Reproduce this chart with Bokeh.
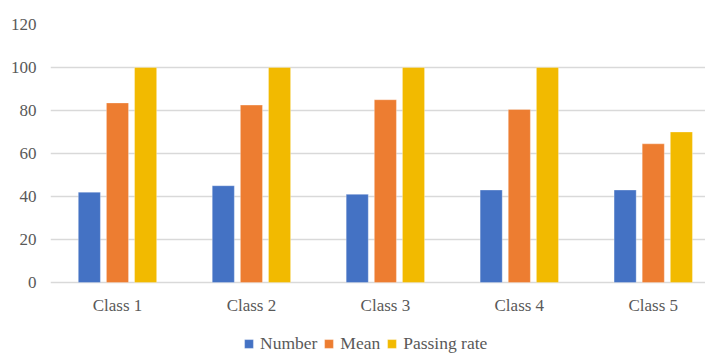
from bokeh.plotting import figure
from bokeh.models import Range1d, FixedTicker, Legend, LegendItem, ColumnDataSource
from bokeh.core.properties import value
from bokeh.embed import file_html
from bokeh.resources import INLINE

classes = ["Class 1", "Class 2", "Class 3", "Class 4", "Class 5"]
number = [42, 45, 41, 43, 43]
mean = [83.5, 82.5, 85, 80.5, 64.5]
passing = [100, 100, 100, 100, 70]
series_names = ["Number", "Mean", "Passing rate"]
colors = ["#4472C4", "#ED7D31", "#F2BA00"]

FONT = "Liberation Serif"
TXT = "#595959"

p = figure(frame_width=655, frame_height=330, output_backend="svg", toolbar_location=None,
           x_range=Range1d(-0.5, 4.39), y_range=Range1d(-33.49, 120),
           min_border_left=50, min_border_right=0, min_border_top=24, min_border_bottom=0)
p.outline_line_color = None
p.background_fill_color = "white"
p.border_fill_color = "white"

xs = list(range(len(classes)))
offsets = [-0.21, 0.0, 0.21]
renderers = []
for vals, off, col in zip([number, mean, passing], offsets, colors):
    src = ColumnDataSource(dict(x=[x + off for x in xs], top=vals))
    r = p.vbar(x="x", top="top", bottom=0, width=0.165, source=src,
               fill_color=col, line_color="white", line_width=0.6, line_alpha=0.5)
    renderers.append(r)

# category labels under the zero line
lab_src = ColumnDataSource(dict(x=xs, y=[0] * len(xs), t=classes))
p.text(x="x", y="y", text="t", source=lab_src, y_offset=23,
       text_align="center", text_baseline="middle",
       text_font=value(FONT), text_font_size="17px", text_color=TXT)

p.xgrid.visible = False
p.xaxis.visible = False
p.ygrid.grid_line_color = "#d9d9d9"
p.ygrid.grid_line_width = 1.3
p.yaxis.ticker = FixedTicker(ticks=[0, 20, 40, 60, 80, 100, 120])
p.ygrid.ticker = FixedTicker(ticks=[0, 20, 40, 60, 80, 100, 120])

ax = p.yaxis[0]
ax.axis_line_color = None
ax.major_tick_line_color = None
ax.minor_tick_line_color = None
ax.major_label_text_font = FONT
ax.major_label_text_font_size = "17px"
ax.major_label_text_color = TXT
ax.major_label_standoff = 8

legend = Legend(items=[LegendItem(label=n, renderers=[r]) for n, r in zip(series_names, renderers)],
                orientation="horizontal", location=(193, 0),
                label_text_font=FONT, label_text_font_size="17.5px", label_text_color=TXT,
                glyph_width=11, glyph_height=11, spacing=6, label_standoff=6,
                padding=2, margin=0, border_line_color=None, background_fill_alpha=0)
p.add_layout(legend, "center")

open("out.html", "w").write(file_html(p, INLINE))
